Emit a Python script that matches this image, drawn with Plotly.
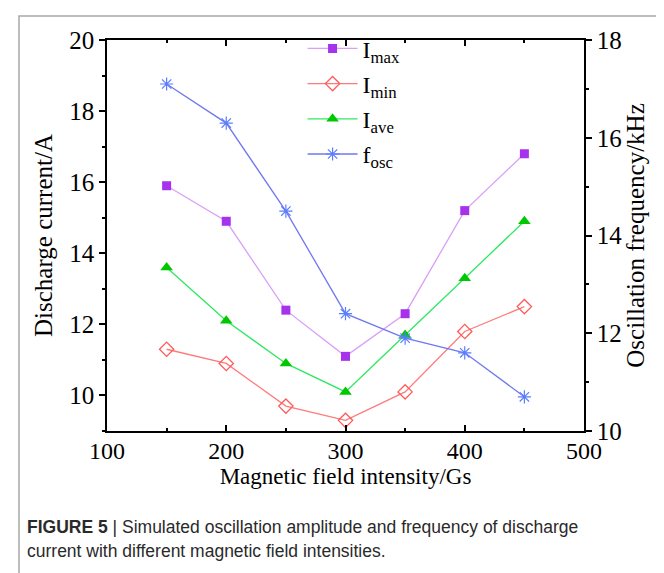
import plotly.graph_objects as go

field = [150, 200, 250, 300, 350, 400, 450]
i_max = [15.9, 14.9, 12.4, 11.1, 12.3, 15.2, 16.8]
i_min = [11.3, 10.9, 9.7, 9.3, 10.1, 11.8, 12.5]
i_ave = [13.6, 12.1, 10.9, 10.1, 11.7, 13.3, 14.9]
f_osc = [17.1, 16.3, 14.5, 12.4, 11.9, 11.6, 10.7]

serif = "Liberation Serif, Times New Roman, serif"
sans = "Liberation Sans, Arial, sans-serif"

fig = go.Figure()
fig.add_trace(go.Scatter(x=field, y=i_max, name="I<sub>max</sub>", mode="lines+markers",
                         legendgroup="a",
                         line=dict(color="#d9a0f5", width=1.3),
                         marker=dict(symbol="square", size=9, color="#a632ee")))
fig.add_trace(go.Scatter(x=field, y=i_min, name="I<sub>min</sub>", mode="lines+markers",
                         legendgroup="b",
                         line=dict(color="#ff7a7a", width=1.3),
                         marker=dict(symbol="diamond-open", size=11, color="#ff5a5a",
                                     line=dict(width=1.3))))
fig.add_trace(go.Scatter(x=field, y=i_ave, name="I<sub>ave</sub>", mode="lines+markers",
                         legendgroup="c",
                         line=dict(color="#2ee860", width=1.3),
                         marker=dict(symbol="triangle-up", size=11, color="#00c800")))
fig.add_trace(go.Scatter(x=field, y=f_osc, name="f<sub>osc</sub>", mode="lines+markers",
                         yaxis="y2", legendgroup="d",
                         line=dict(color="#6f78f0", width=1.3),
                         marker=dict(symbol="asterisk-open", size=11, color="#5a7cff",
                                     line=dict(width=1.2, color="#5a7cff"))))

axis_common = dict(showline=True, linecolor="black", linewidth=1.5, showgrid=False,
                   zeroline=False, tickcolor="black", tickwidth=1.5, ticklen=6)
title_font_x = dict(family=serif, size=23, color="black")
title_font_y = dict(family=serif, size=25, color="black")

fig.update_layout(
    width=664, height=573,
    margin=dict(l=99, r=88, t=32, b=150),
    paper_bgcolor="white", plot_bgcolor="white",
    showlegend=True,
    legend=dict(x=0.41, y=1.035, xanchor="left", yanchor="top",
                font=dict(family=serif, size=24, color="black"),
                bgcolor="rgba(0,0,0,0)", tracegroupgap=1, itemwidth=50),
    xaxis=dict(range=[100, 500], tickvals=[100, 200, 300, 400, 500],
               ticks="inside", mirror="ticks", ticklabelstandoff=-3,
               tickfont=dict(family=serif, size=24, color="black"),
               minor=dict(dtick=50, tick0=100, ticks="inside", ticklen=3, tickcolor="black", tickwidth=1.5),
               title=dict(text="Magnetic field intensity/Gs", font=title_font_x, standoff=0),
               **axis_common),
    yaxis=dict(range=[9, 20], tickvals=[10, 12, 14, 16, 18, 20], ticks="outside",
               tickfont=dict(family=serif, size=25, color="black"),
               minor=dict(dtick=1, tick0=9, ticks="outside", ticklen=3, tickcolor="black", tickwidth=1.5),
               title=dict(text="Discharge current/A", font=title_font_y, standoff=10),
               **axis_common),
    yaxis2=dict(range=[10, 18], tickvals=[10, 12, 14, 16, 18], overlaying="y", side="right",
                ticks="outside",
                tickfont=dict(family=serif, size=25, color="black"),
                minor=dict(dtick=1, tick0=10, ticks="outside", ticklen=3, tickcolor="black", tickwidth=1.5),
                title=dict(text="Oscillation frequency/kHz", font=title_font_y, standoff=0),
                **axis_common),
)

fig.add_shape(type="rect", xref="paper", yref="paper",
              x0=-88/477, x1=(658-99)/477, y0=(423-585)/391, y1=(423-8)/391,
              line=dict(color="#a8a8a8", width=1.5), fillcolor="rgba(0,0,0,0)", layer="below")

fig.add_annotation(xref="paper", yref="paper", x=(17-99)/477, y=(423-519)/391,
                   xanchor="left", yanchor="middle", showarrow=False, align="left",
                   text="<b>FIGURE 5</b> | Simulated oscillation amplitude and frequency of discharge",
                   font=dict(family=sans, size=17.5, color="#2a2a2a"))
fig.add_annotation(xref="paper", yref="paper", x=(17-99)/477, y=(423-543)/391,
                   xanchor="left", yanchor="middle", showarrow=False, align="left",
                   text="current with different magnetic field intensities.",
                   font=dict(family=sans, size=17.5, color="#2a2a2a"))

fig.write_html("out.html")
